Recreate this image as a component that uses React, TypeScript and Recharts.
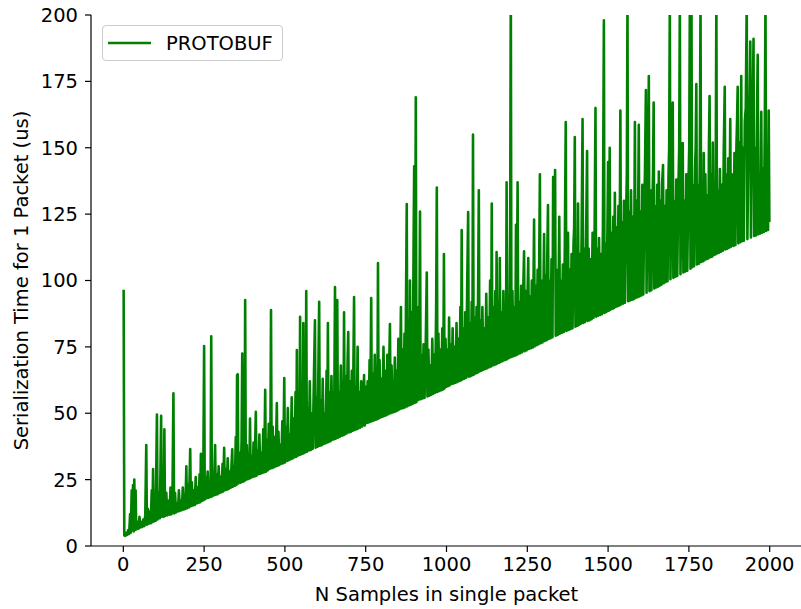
import { LineChart, Line, XAxis, YAxis, Legend } from "recharts";

type Point = [number, number]; // [samples in packet, serialization time in us]

const upTo350: Point[] = [
  [1, 96.5], [3, 4], [6, 3.8], [9, 5], [12, 4.2], [15, 6], [18, 4.5], [21, 12], [23, 5], [26, 21],
  [28, 6], [30, 23], [32, 5.5], [34, 25], [36, 6], [38, 21], [40, 6.2], [44, 9], [47, 6.5], [50, 11],
  [53, 7], [56, 9], [59, 7.2], [62, 10], [65, 7.5], [68, 12], [71, 38], [73, 8], [76, 14], [79, 8.4],
  [82, 13], [85, 8.6], [88, 21], [90, 9], [92, 29], [94, 9.2], [97, 15], [100, 9.5], [104, 49.5], [106, 10],
  [110, 20], [113, 10.5], [117, 49], [119, 11], [122, 25], [125, 11], [127, 44], [129, 11.3], [133, 20], [136, 11.5],
  [140, 17], [143, 11.8], [146, 22], [149, 12], [152, 18], [155, 57.5], [157, 12.3], [160, 20], [163, 12.6], [166, 16],
  [169, 13], [172, 21], [175, 13.2], [178, 17], [181, 13.5], [184, 22], [187, 13.8], [190, 19], [192, 14], [195, 30],
  [197, 14.2], [200, 23], [203, 14.5], [207, 36.5], [209, 15], [212, 24], [215, 15.3], [218, 21], [221, 15.5], [224, 26],
  [227, 16], [230, 22], [233, 16.3], [236, 27], [238, 16.5], [240, 34.7], [242, 17], [245, 25], [247, 17.2], [250, 75.3],
  [252, 17.5], [255, 26], [258, 18], [261, 28], [264, 18.2], [267, 24], [270, 18.5], [272, 79], [274, 18.7], [277, 28],
  [280, 19], [284, 38], [286, 19.3], [289, 27], [292, 19.5], [295, 30], [298, 20], [301, 26], [304, 20.3], [307, 31],
  [309, 20.5], [312, 37], [314, 21], [317, 29], [320, 21.2], [323, 33], [326, 21.5], [329, 28], [332, 22], [335, 31],
  [337, 36.4], [339, 22.3], [342, 30], [345, 22.7], [348, 41], [350, 23],
];

const upTo750: Point[] = [
  [352, 64.4], [354, 64.7], [356, 23.6], [360, 35], [363, 23.8], [366, 40], [368, 72.5], [370, 24.2], [373, 45], [375, 24.5],
  [377, 92.6], [379, 25], [382, 38], [385, 25.2], [388, 33], [390, 25.4], [392, 48], [394, 25.6], [397, 34], [400, 26],
  [403, 39], [406, 26.2], [410, 50.5], [412, 26.5], [415, 36], [418, 27], [421, 42], [424, 27.2], [427, 35], [430, 27.5],
  [433, 44], [436, 27.8], [439, 58.8], [441, 28], [444, 40], [447, 28.5], [450, 46], [452, 29], [455, 38], [457, 88.9],
  [459, 29.3], [462, 45], [465, 29.6], [468, 41], [471, 30], [475, 53.8], [477, 30.2], [480, 43], [483, 30.5], [486, 38],
  [489, 31], [492, 47], [495, 31.2], [498, 63.3], [500, 31.5], [503, 45], [506, 32], [509, 52], [512, 32.3], [515, 42],
  [518, 32.7], [521, 56], [524, 33], [527, 48], [530, 33.4], [533, 58], [535, 33.6], [537, 73.8], [539, 34], [542, 55],
  [545, 34.3], [547, 86.3], [549, 34.5], [552, 50], [555, 34.8], [557, 84], [559, 35], [562, 60], [564, 35.3], [566, 96],
  [568, 35.5], [571, 52], [574, 36], [577, 62], [580, 36.2], [583, 50], [586, 36.6], [590, 65], [593, 85], [595, 37],
  [598, 56], [601, 37.4], [603, 60], [606, 92], [608, 37.8], [611, 55], [614, 38], [617, 63], [620, 38.4], [623, 50],
  [626, 38.7], [629, 66], [631, 39], [633, 84], [635, 39.2], [638, 58], [641, 39.5], [644, 64], [647, 40], [650, 55],
  [652, 40.2], [655, 97.5], [657, 40.4], [660, 60], [662, 92.6], [664, 40.8], [667, 58], [670, 41.2], [673, 68], [676, 41.5],
  [679, 62], [681, 41.7], [683, 88], [685, 42], [688, 64], [691, 42.4], [694, 70], [696, 80.6], [698, 42.8], [701, 62],
  [704, 43], [707, 66], [710, 43.4], [714, 93.8], [716, 43.7], [719, 60], [722, 44], [725, 75], [727, 44.3], [730, 58],
  [733, 44.6], [736, 62], [739, 45], [742, 55], [745, 64.4], [747, 45.4], [750, 60],
];

const upTo1100: Point[] = [
  [753, 46.3], [756, 62], [759, 46.5], [762, 70], [764, 46.8], [767, 93.4], [769, 47], [772, 65], [775, 47.3], [778, 72],
  [781, 47.6], [784, 66], [786, 47.8], [788, 106.6], [790, 48], [793, 70], [796, 48.4], [799, 63], [802, 48.7], [805, 75],
  [808, 49], [811, 66], [814, 49.3], [817, 72], [820, 49.6], [822, 64], [825, 83.6], [827, 50], [830, 68], [833, 50.3],
  [836, 62], [838, 50.5], [840, 71], [842, 50.7], [845, 66], [848, 51], [851, 78], [854, 51.4], [857, 70], [859, 90],
  [861, 51.8], [864, 74], [867, 52], [870, 80], [872, 52.3], [875, 96], [877, 128.8], [879, 52.6], [882, 85], [885, 53],
  [887, 100], [889, 53.2], [892, 88], [895, 53.5], [898, 110], [900, 143], [902, 54], [905, 169], [907, 54.2], [910, 90],
  [913, 55], [916, 80], [918, 126], [920, 55.3], [923, 72], [926, 55.6], [929, 76], [932, 55.8], [935, 70], [939, 103],
  [941, 56.3], [944, 74], [947, 56.6], [950, 68], [953, 57], [956, 78], [959, 57.4], [962, 72], [965, 57.7], [968, 90],
  [970, 135], [972, 58], [975, 80], [978, 58.4], [981, 74], [984, 58.7], [987, 82], [990, 59], [992, 110], [994, 59.3],
  [997, 78], [1000, 60], [1003, 74], [1006, 60.3], [1008, 86], [1010, 60.6], [1013, 76], [1016, 61], [1019, 82], [1022, 61.2],
  [1025, 75], [1028, 61.5], [1031, 84], [1034, 61.8], [1037, 78], [1040, 62.2], [1043, 90], [1045, 62.4], [1047, 119], [1049, 62.7],
  [1052, 82], [1055, 63], [1058, 88], [1061, 63.4], [1064, 98], [1067, 125.8], [1069, 63.8], [1072, 84], [1075, 64], [1078, 92],
  [1080, 64.3], [1082, 155], [1084, 64.5], [1087, 86], [1090, 65], [1093, 90], [1096, 65.3], [1098, 100], [1100, 134], [1102, 65.7],
];

const upTo1500: Point[] = [
  [1105, 85], [1108, 66], [1111, 90], [1114, 66.4], [1117, 82], [1120, 66.7], [1123, 95], [1126, 67], [1129, 86], [1132, 67.3],
  [1135, 100], [1138, 67.6], [1140, 129], [1142, 68], [1145, 90], [1148, 68.2], [1151, 96], [1153, 68.5], [1155, 110.7], [1157, 68.7],
  [1160, 92], [1163, 69], [1165, 108.5], [1167, 69.3], [1170, 88], [1173, 69.6], [1176, 96], [1179, 70], [1182, 90], [1184, 70.2],
  [1186, 137], [1188, 70.4], [1191, 94], [1194, 70.8], [1197, 120], [1199, 212], [1201, 71.2], [1204, 96], [1207, 71.5], [1210, 90],
  [1213, 71.8], [1215, 121], [1217, 72], [1220, 137], [1222, 72.3], [1225, 92], [1228, 72.6], [1231, 98], [1234, 73], [1237, 94],
  [1240, 111], [1242, 73.4], [1245, 96], [1248, 73.7], [1250, 90], [1253, 108.5], [1255, 74.2], [1258, 94], [1261, 74.5], [1264, 100],
  [1267, 74.8], [1269, 96], [1271, 123], [1273, 75.2], [1276, 98], [1279, 75.6], [1282, 104], [1285, 76], [1287, 110], [1289, 140],
  [1291, 76.4], [1294, 100], [1297, 76.7], [1300, 96], [1302, 117.5], [1304, 77.2], [1307, 102], [1310, 77.5], [1312, 110], [1314, 128.4],
  [1316, 78], [1319, 100], [1322, 78.3], [1325, 108], [1328, 78.6], [1330, 139], [1333, 110], [1336, 141.6], [1338, 79.2], [1341, 104],
  [1344, 79.5], [1347, 100], [1349, 124], [1351, 80], [1354, 100], [1357, 80.3], [1360, 106], [1363, 80.6], [1366, 112], [1369, 159.7],
  [1371, 81], [1374, 104], [1376, 118], [1378, 81.4], [1381, 104], [1384, 81.7], [1387, 110], [1390, 82], [1393, 114], [1395, 120],
  [1397, 154], [1399, 82.6], [1402, 108], [1405, 83], [1407, 129], [1409, 83.2], [1412, 110], [1415, 83.6], [1418, 116], [1421, 160.8],
  [1423, 84], [1426, 112], [1429, 84.4], [1432, 118], [1435, 148.8], [1437, 84.8], [1440, 112], [1443, 85], [1446, 108], [1449, 85.4],
  [1452, 118], [1455, 86], [1458, 114], [1461, 165], [1463, 86.4], [1466, 112], [1469, 86.7], [1472, 116], [1475, 87], [1478, 110],
  [1481, 87.3], [1484, 120], [1487, 198], [1489, 87.8], [1492, 114], [1495, 88.2], [1498, 120], [1500, 144.6], [1502, 88.6], [1505, 150],
  [1507, 89],
];

const upTo2000: Point[] = [
  [1510, 118], [1513, 89.4], [1516, 124], [1518, 89.6], [1521, 133], [1523, 90], [1526, 120], [1529, 90.3], [1532, 128], [1535, 90.6],
  [1538, 164], [1540, 91], [1543, 122], [1546, 91.3], [1549, 130], [1552, 91.6], [1555, 120], [1558, 140], [1560, 205], [1562, 92.2],
  [1565, 126], [1568, 92.5], [1571, 134], [1574, 92.8], [1577, 124], [1580, 93], [1583, 159.7], [1585, 93.4], [1588, 130], [1591, 93.7],
  [1595, 158.6], [1597, 94], [1600, 126], [1603, 94.4], [1606, 136], [1609, 94.7], [1612, 130], [1614, 140], [1617, 171.7], [1619, 95.4],
  [1622, 130], [1624, 145], [1626, 177], [1628, 96], [1631, 134], [1634, 96.3], [1637, 128], [1639, 140], [1641, 167], [1643, 97],
  [1646, 128], [1649, 97.4], [1652, 136], [1655, 97.7], [1657, 141], [1659, 98], [1662, 130], [1665, 98.4], [1667, 136], [1670, 143.5],
  [1672, 99], [1675, 128], [1678, 99.4], [1681, 134], [1684, 99.7], [1687, 140], [1689, 150], [1691, 205], [1693, 100.5], [1696, 136],
  [1698, 140], [1700, 167], [1702, 101], [1705, 130], [1708, 101.4], [1711, 138], [1714, 101.7], [1717, 132], [1720, 150], [1722, 205],
  [1724, 102.4], [1727, 134], [1729, 140], [1731, 151.8], [1733, 103], [1736, 130], [1739, 103.4], [1742, 140], [1745, 103.7], [1748, 132],
  [1751, 150], [1753, 205], [1755, 104.4], [1758, 205], [1760, 105], [1763, 136], [1766, 105.4], [1769, 142], [1771, 150], [1773, 174],
  [1775, 106], [1778, 136], [1781, 106.3], [1784, 150], [1786, 205], [1788, 107], [1791, 134], [1794, 107.3], [1796, 148], [1798, 107.6],
  [1801, 140], [1804, 108], [1807, 132], [1810, 108.3], [1812, 150], [1814, 169.5], [1816, 108.8], [1819, 140], [1822, 109], [1824, 152],
  [1826, 109.5], [1829, 136], [1832, 109.8], [1835, 205], [1837, 110.2], [1840, 134], [1843, 110.5], [1846, 142], [1849, 110.8], [1852, 136],
  [1855, 111.2], [1858, 150], [1861, 173], [1863, 111.7], [1866, 140], [1869, 112], [1872, 146], [1875, 112.4], [1878, 160.8], [1880, 112.7],
  [1883, 140], [1886, 138], [1888, 113], [1891, 148], [1894, 113.4], [1897, 150], [1899, 160], [1901, 173], [1903, 114], [1906, 152],
  [1909, 114.4], [1912, 177], [1914, 114.8], [1917, 150], [1920, 115], [1923, 160], [1926, 165], [1929, 205], [1931, 115.6], [1934, 150],
  [1937, 160], [1940, 190], [1942, 116.2], [1945, 160], [1948, 170], [1950, 191], [1952, 116.8], [1955, 150], [1958, 117], [1961, 165],
  [1963, 185], [1965, 117.4], [1968, 140], [1971, 117.7], [1974, 163.5], [1976, 118], [1979, 142], [1982, 118.3], [1985, 160], [1987, 205],
  [1989, 118.7], [1992, 140], [1995, 119], [1997, 164], [1999, 122],
];

const xTicks = [0, 250, 500, 750, 1000, 1250, 1500, 1750, 2000];
const yTicks = [0, 25, 50, 75, 100, 125, 150, 175, 200];
const seriesName = "PROTOBUF";
const seriesColor = "#008000";

const data = [...upTo350, ...upTo750, ...upTo1100, ...upTo1500, ...upTo2000].map(([n, us]) => ({ n, us }));

const FONT = "DejaVu Sans";
const FONT_SIZE = 19.5;
const tickStyle = { fontSize: FONT_SIZE, fill: "#000", fontFamily: FONT };
const spine = { stroke: "#000", strokeWidth: 1.2 };

const LegendBox = () => (
  <div
    style={{
      width: 181,
      height: 36,
      boxSizing: "border-box",
      border: "1px solid #cccccc",
      borderRadius: 4,
      background: "rgba(255,255,255,0.8)",
      display: "flex",
      alignItems: "center",
      fontFamily: FONT,
      fontSize: FONT_SIZE,
      color: "#000",
    }}
  >
    <svg width={43} height={4} style={{ marginLeft: 5 }}>
      <line x1={0} y1={2} x2={43} y2={2} stroke={seriesColor} strokeWidth={2.6} />
    </svg>
    <span style={{ marginLeft: 15 }}>{seriesName}</span>
  </div>
);

export default function App() {
  return (
    <div
      style={{
        position: "absolute",
        left: 0,
        top: 0,
        width: 801,
        height: 609,
        overflow: "hidden",
        background: "#fff",
      }}
    >
      <LineChart width={803} height={609} data={data} margin={{ top: 15, right: 1, bottom: 0, left: 0 }}>
        <XAxis
          dataKey="n"
          type="number"
          domain={[-100, 2100]}
          ticks={xTicks}
          height={63}
          tick={tickStyle}
          tickSize={6}
          tickMargin={5}
          tickLine={spine}
          axisLine={spine}
          label={{
            content: ({ viewBox }: any) => (
              <text
                x={viewBox.x + viewBox.width / 2}
                y={601}
                textAnchor="middle"
                fontFamily={FONT}
                fontSize={FONT_SIZE}
                fill="#000"
              >
                N Samples in single packet
              </text>
            ),
          }}
        />
        <XAxis
          xAxisId="top"
          orientation="top"
          type="number"
          domain={[-100, 2100]}
          height={0}
          tick={false}
          tickLine={false}
          axisLine={spine}
        />
        <YAxis
          type="number"
          domain={[0, 200]}
          ticks={yTicks}
          allowDataOverflow
          width={91}
          tick={tickStyle}
          tickSize={6}
          tickMargin={7}
          tickLine={spine}
          axisLine={spine}
          label={{
            content: ({ viewBox }: any) => (
              <text
                transform={`translate(28, ${viewBox.y + viewBox.height / 2}) rotate(-90)`}
                textAnchor="middle"
                fontFamily={FONT}
                fontSize={FONT_SIZE}
                fill="#000"
              >
                Serialization Time for 1 Packet (us)
              </text>
            ),
          }}
        />
        <YAxis
          yAxisId="right"
          orientation="right"
          domain={[0, 200]}
          width={0}
          tick={false}
          tickLine={false}
          axisLine={spine}
        />
        <Legend
          layout="vertical"
          align="center"
          verticalAlign="middle"
          content={() => <LegendBox />}
          wrapperStyle={{ left: 102, top: 25, width: 181, height: 36 }}
        />
        <Line
          type="linear"
          dataKey="us"
          name={seriesName}
          stroke={seriesColor}
          strokeWidth={2.6}
          strokeLinejoin="round"
          dot={false}
          activeDot={false}
          isAnimationActive={false}
        />
      </LineChart>
    </div>
  );
}
